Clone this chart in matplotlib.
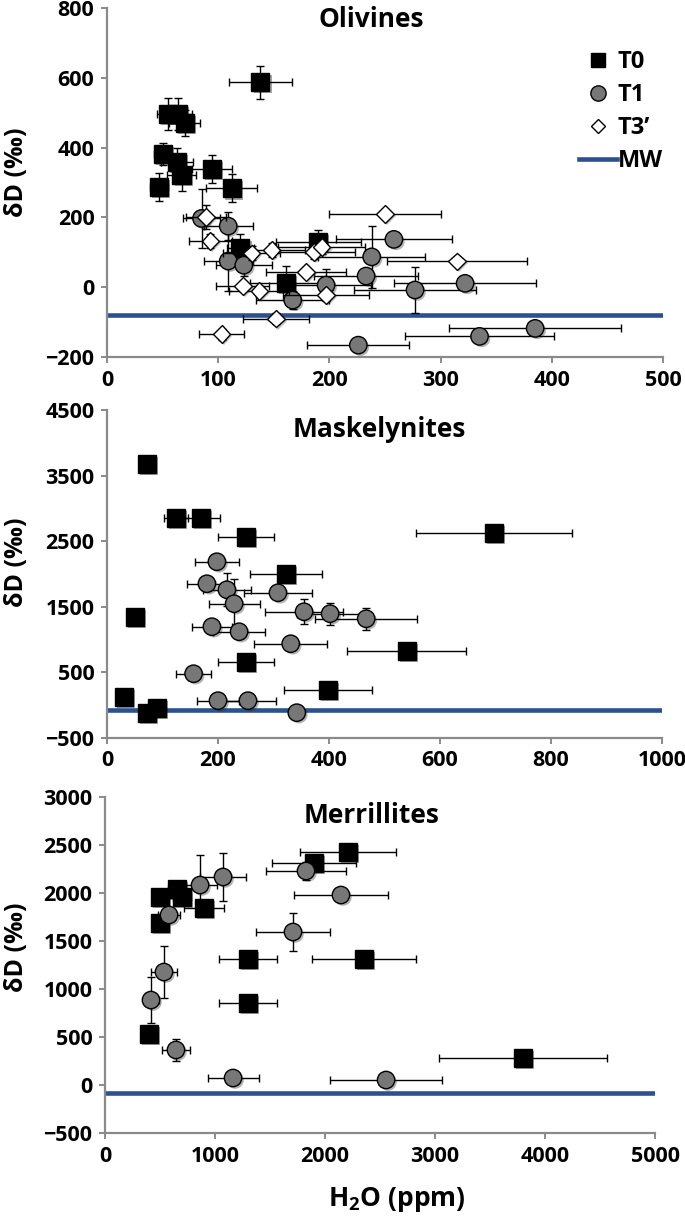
import numpy as np
import matplotlib
matplotlib.use('Agg')
import matplotlib.pyplot as plt
from matplotlib.lines import Line2D
import matplotlib.patheffects as pe

plt.rcParams['font.family'] = ['Open Sans', 'DejaVu Sans']
plt.rcParams['font.weight'] = 'bold'
plt.rcParams['mathtext.fontset'] = 'custom'
plt.rcParams['mathtext.rm'] = 'Open Sans:bold'
plt.rcParams['mathtext.bf'] = 'Open Sans:bold'

# ---- Olivines ----
ol_t0_x = [138, 55, 64, 70, 50, 63, 67, 47, 94, 112, 120, 190, 161]
ol_t0_y = [587, 496, 496, 470, 381, 358, 321, 287, 340, 283, 112, 129, 12]
ol_t0_xerr = [28, 10, 12, 14, 8, 14, 13, 8, 18, 23, 12, 38, 32]
ol_t0_yerr = [47, 45, 45, 38, 32, 40, 45, 40, 40, 40, 40, 35, 50]

ol_t1_x = [85, 109, 109, 123, 167, 197, 258, 238, 233, 277, 322, 226, 335, 385]
ol_t1_y = [197, 175, 75, 63, -37, 6, 137, 87, 32, -8, 11, -166, -141, -118]
ol_t1_xerr = [17, 22, 22, 25, 33, 40, 52, 48, 47, 55, 64, 46, 67, 77]
ol_t1_yerr = [85, 40, 85, 30, 25, 45, 20, 88, 20, 65, 20, 20, 15, 15]

ol_t3_x = [89, 93, 130, 148, 122, 137, 179, 186, 193, 197, 152, 103, 250, 315]
ol_t3_y = [201, 133, 97, 106, 3, -11, 44, 100, 115, -23, -90, -135, 209, 74]
ol_t3_xerr = [18, 19, 26, 30, 24, 27, 36, 37, 39, 39, 30, 20, 50, 63]
ol_t3_yerr = [34, 20, 20, 20, 15, 15, 15, 20, 20, 15, 15, 15, 10, 10]

# ---- Maskelynites ----
mk_t0_x = [72, 124, 169, 250, 322, 50, 250, 31, 72, 90, 398, 697, 540]
mk_t0_y = [3681, 2858, 2858, 2569, 2005, 1349, 663, 130, -114, -38, 236, 2629, 830]
mk_t0_xerr = [0, 22, 35, 50, 65, 0, 50, 0, 0, 0, 79, 140, 107]
mk_t0_yerr = [0] * 13

mk_t1_x = [198, 180, 216, 229, 308, 355, 402, 467, 189, 238, 331, 156, 200, 254, 342]
mk_t1_y = [2187, 1852, 1760, 1547, 1714, 1425, 1395, 1318, 1197, 1120, 937, 480, 69, 69, -114]
mk_t1_xerr = [39, 35, 43, 46, 62, 70, 60, 92, 36, 47, 66, 31, 38, 50, 0]
mk_t1_yerr = [30, 110, 250, 380, 0, 190, 170, 170, 30, 30, 0, 0, 0, 0, 0]

# ---- Merrillites ----
me_t0_x = [500, 655, 700, 500, 900, 1300, 1300, 400, 2209, 1900, 2355, 3800]
me_t0_y = [1960, 2040, 1960, 1688, 1844, 1313, 854, 531, 2427, 2313, 1313, 281]
me_t0_xerr = [60, 80, 85, 60, 180, 265, 265, 50, 440, 380, 470, 764]
me_t0_yerr = [0] * 12

me_t1_x = [864, 1073, 582, 536, 418, 645, 1164, 1709, 1827, 2145, 2555]
me_t1_y = [2083, 2167, 1771, 1177, 885, 365, 73, 1594, 2229, 1979, 52]
me_t1_xerr = [150, 210, 100, 120, 70, 127, 232, 340, 365, 430, 510]
me_t1_yerr = [313, 250, 40, 270, 240, 115, 0, 200, 90, 60, 0]

mw_value = -80

axis_gray = '#8a8a8a'
mw_blue = '#2b5190'
circle_gray = '#777777'

shadow = [pe.SimplePatchShadow(offset=(1.5, -1.5), alpha=0.35), pe.Normal()]

styles = {
    'T0': dict(marker='s', ms=13, mfc='black', mec='black', mew=1),
    'T1': dict(marker='o', ms=12.5, mfc=circle_gray, mec='black', mew=1),
    'T3': dict(marker='D', ms=9, mfc='white', mec='black', mew=1),
}


def draw_series(ax, x, y, xerr, yerr, key, z):
    cont = ax.errorbar(x, y, xerr=xerr, yerr=yerr, ls='none', ecolor='black',
                       elinewidth=1, capsize=3, capthick=1, zorder=z, **styles[key])
    cont[0].set_path_effects(shadow)


def style_axis(ax, xlim, xticks, ylim, yticks, title, tx, ty):
    ax.set_xlim(xlim)
    ax.set_ylim(ylim)
    ax.set_xticks(xticks)
    ax.set_yticks(yticks)
    for s in ['top', 'right']:
        ax.spines[s].set_visible(False)
    for s in ['left', 'bottom']:
        ax.spines[s].set_color(axis_gray)
        ax.spines[s].set_linewidth(1.6)
    ax.tick_params(direction='out', length=4, width=1.4, color=axis_gray,
                   labelsize=15.5, pad=5)
    for lab in ax.get_xticklabels() + ax.get_yticklabels():
        lab.set_fontweight('bold')
    ax.axhline(mw_value, color=mw_blue, lw=3.3, zorder=1)
    ax.text(tx, ty, title, transform=ax.transAxes, ha='center', va='center',
            fontsize=19, fontweight='bold')


fig = plt.figure(figsize=(6.85, 12.17), dpi=100)
W, H = 685, 1217
ax1 = fig.add_axes([107 / W, 1 - 357 / H, 556 / W, 349 / H])
ax2 = fig.add_axes([107 / W, 1 - 738 / H, 555 / W, 328 / H])
ax3 = fig.add_axes([105 / W, 1 - 1133 / H, 550 / W, 336 / H])

# Olivines
style_axis(ax1, (0, 500), np.arange(0, 501, 100), (-200, 800), np.arange(-200, 801, 200),
           'Olivines', 0.475, 0.966)
draw_series(ax1, ol_t0_x, ol_t0_y, ol_t0_xerr, ol_t0_yerr, 'T0', 3)
draw_series(ax1, ol_t1_x, ol_t1_y, ol_t1_xerr, ol_t1_yerr, 'T1', 4)
draw_series(ax1, ol_t3_x, ol_t3_y, ol_t3_xerr, ol_t3_yerr, 'T3', 5)

handles = [
    Line2D([], [], ls='none', marker='s', ms=10, mfc='black', mec='black'),
    Line2D([], [], ls='none', marker='o', ms=11, mfc=circle_gray, mec='black'),
    Line2D([], [], ls='none', marker='D', ms=7, mfc='white', mec='black'),
    Line2D([], [], color=mw_blue, lw=3.3),
]
leg = ax1.legend(handles, ['T0', 'T1', 'T3\u2019', 'MW'], loc='upper right',
                 bbox_to_anchor=(1.0, 0.88), frameon=False,
                 prop=dict(size=17, weight='bold'),
                 handlelength=1.6, handletextpad=0.05, labelspacing=0.38,
                 borderpad=0, borderaxespad=0)

# Maskelynites
style_axis(ax2, (0, 1000), np.arange(0, 1001, 200), (-500, 4500), np.arange(-500, 4501, 1000),
           'Maskelynites', 0.49, 0.942)
draw_series(ax2, mk_t0_x, mk_t0_y, mk_t0_xerr, mk_t0_yerr, 'T0', 3)
draw_series(ax2, mk_t1_x, mk_t1_y, mk_t1_xerr, mk_t1_yerr, 'T1', 4)

# Merrillites
style_axis(ax3, (0, 5000), np.arange(0, 5001, 1000), (-500, 3000), np.arange(-500, 3001, 500),
           'Merrillites', 0.485, 0.946)
draw_series(ax3, me_t0_x, me_t0_y, me_t0_xerr, me_t0_yerr, 'T0', 3)
draw_series(ax3, me_t1_x, me_t1_y, me_t1_xerr, me_t1_yerr, 'T1', 4)

for yc in [172, 562, 947]:
    fig.text(17 / W, 1 - yc / H, '\u03b4D (\u2030)', rotation=90, ha='center', va='center',
             fontsize=18, fontweight='bold')

fig.text(397 / W, 1 - 1200 / H, r'H$_\mathbf{2}$O (ppm)', ha='center', va='center',
         fontsize=19, fontweight='bold')

fig.savefig('out.png', dpi=100)
